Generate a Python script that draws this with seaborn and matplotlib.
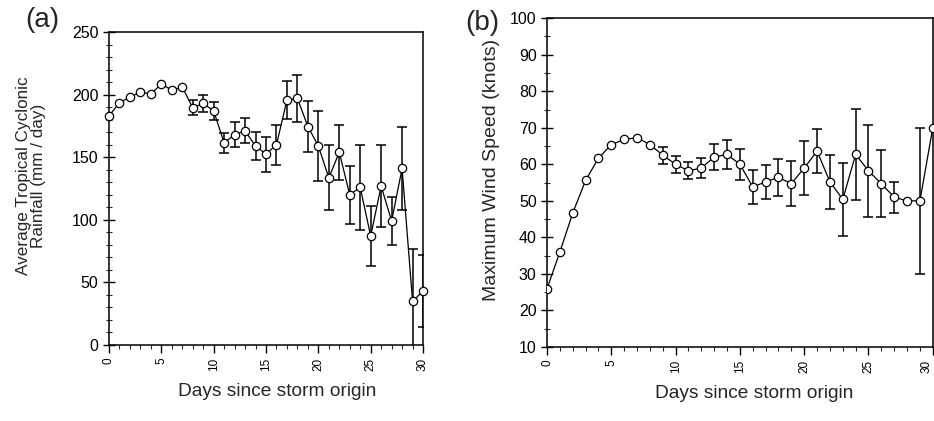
import numpy as np
import pandas as pd
import matplotlib
matplotlib.use("Agg")
import matplotlib.pyplot as plt
import seaborn as sns
from matplotlib.ticker import MultipleLocator

# ---- data ----
days = list(range(0, 31))

rain_mean = [183, 193.5, 198, 202, 200.5, 208.5, 203.5, 206, 189.5, 193,
             187, 161.5, 168, 171, 159, 152.5, 160, 195.5, 197, 174.5,
             159, 133.5, 154, 120, 126, 87, 127, 99, 141, 35, 43]
rain_err = [0, 0, 0, 0, 0, 0, 0, 0, 6, 7,
            7, 8, 10, 10, 11, 14, 16, 15, 19, 20,
            28, 26, 22, 23, 34, 24, 33, 19, 33, 42, 29]

wind_mean = [26, 36, 46.7, 55.6, 61.7, 65.4, 66.8, 67.3, 65.4, 62.5,
             60, 58.2, 59, 62, 62.7, 60, 53.8, 55.2, 56.4, 54.7,
             59, 63.6, 55.2, 50.4, 62.7, 58.2, 54.7, 51, 50, 50, 70]
wind_err = [0, 0, 0, 0, 0, 0, 0, 0, 0, 2.3,
            2.3, 2.3, 2.8, 3.6, 3.9, 4.2, 4.6, 4.7, 5.1, 6.2,
            7.4, 6.1, 7.3, 10, 12.5, 12.6, 9.2, 4.2, 0, 20, 0]

rain_ticks = [0, 50, 100, 150, 200, 250]
wind_ticks = [10, 20, 30, 40, 50, 60, 70, 80, 90, 100]
day_ticks = [0, 5, 10, 15, 20, 25, 30]

df_rain = pd.DataFrame({"day": days, "val": rain_mean, "err": rain_err})
df_wind = pd.DataFrame({"day": days, "val": wind_mean, "err": wind_err})

sns.set_style("ticks")
plt.rcParams['font.family'] = ['Liberation Sans', 'DejaVu Sans']
tickfam = ['Liberation Sans', 'DejaVu Sans']

fig = plt.figure(figsize=(9.34, 4.21), dpi=100)
ax_a = fig.add_axes([0.1167, 0.1805, 0.3362, 0.7435])
ax_b = fig.add_axes([0.5857, 0.1758, 0.4130, 0.7810])


def draw(ax, df, ylim, yticks, yminor, ylabel, ylsize, clip):
    sub = df[df["err"] > 0]
    ax.errorbar(sub["day"], sub["val"], yerr=sub["err"], fmt='none',
                ecolor='black', elinewidth=1.1, capsize=3.5, capthick=1.1,
                zorder=2)
    sns.lineplot(data=df, x="day", y="val", ax=ax, color='black',
                 linewidth=0.9, marker='o', markersize=6,
                 markerfacecolor='white', markeredgecolor='black',
                 markeredgewidth=0.9, zorder=3, clip_on=clip)
    ax.set_xlim(0, 30)
    ax.set_ylim(*ylim)
    ax.set_xticks(day_ticks)
    ax.set_xticklabels([str(t) for t in day_ticks], rotation=90,
                       family=tickfam, fontsize=8.5)
    ax.set_yticks(yticks)
    ax.set_yticklabels([str(t) for t in yticks], family=tickfam, fontsize=11.5)
    ax.xaxis.set_minor_locator(MultipleLocator(1))
    ax.yaxis.set_minor_locator(MultipleLocator(yminor))
    ax.tick_params(axis='x', which='major', direction='out', length=6,
                   width=1.0, pad=3, colors='black')
    ax.tick_params(axis='x', which='minor', direction='out', length=3,
                   width=0.8)
    ax.tick_params(axis='y', which='major', direction='inout', length=9,
                   width=1.0, pad=3, colors='black')
    ax.tick_params(axis='y', which='minor', direction='inout', length=5,
                   width=0.8)
    for s in ax.spines.values():
        s.set_visible(True)
        s.set_color('black')
        s.set_linewidth(1.1)
    ax.set_xlabel("Days since storm origin", fontsize=13.8)
    ax.set_ylabel(ylabel, fontsize=ylsize, linespacing=1.05)
    ax.grid(False)


draw(ax_a, df_rain, (0, 250), rain_ticks, 10,
     "Average Tropical Cyclonic\nRainfall (mm / day)", 12.3, False)
draw(ax_b, df_wind, (10, 100), wind_ticks, 5,
     "Maximum Wind Speed (knots)", 14, True)

# keep the last tick label of panel (b) inside the figure
ax_b.get_xticklabels()[-1].set_horizontalalignment('right')

ax_a.yaxis.set_label_coords(-0.2, 0.54)
ax_a.xaxis.set_label_coords(0.535, -0.121)
ax_b.yaxis.set_label_coords(-0.122, 0.538)
ax_b.xaxis.set_label_coords(0.536, -0.115)

fig.text(42 / 934, 1 - 20 / 421, "(a)", fontsize=20, ha='center', va='center')
fig.text(482 / 934, 1 - 23 / 421, "(b)", fontsize=20, ha='center', va='center')

fig.savefig("out.png", dpi=100)
